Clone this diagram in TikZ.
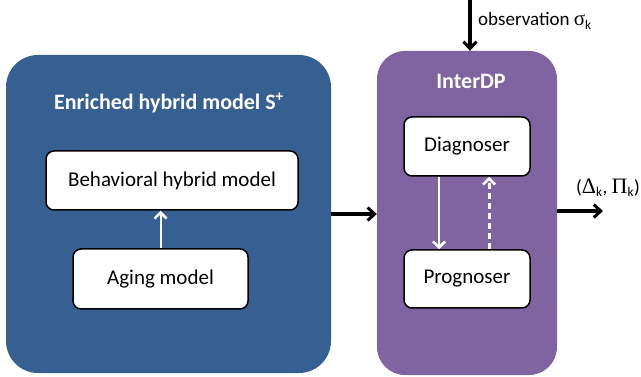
\documentclass[tikz,border=0pt]{standalone}
\usepackage{fontspec}
\setmainfont{Carlito}
\newfontfamily\symf{Liberation Serif}
\usetikzlibrary{arrows.meta}
\definecolor{bluebg}{RGB}{55,96,146}
\definecolor{purpbg}{RGB}{128,100,162}
\begin{document}
\begin{tikzpicture}[x=1pt,y=-1pt,
  outer/.style={rounded corners=32pt, inner sep=0pt},
  inbox/.style={draw=black, line width=1.5pt, fill=white, rounded corners=8pt, font=\fontsize{21}{24}\selectfont, inner sep=0pt},
  title/.style={text=white, font=\fontsize{22}{24}\selectfont\bfseries},
  blk/.style={line width=3.5pt, -{Straight Barb[length=7pt,width=13pt,line width=3pt]}},
  wht/.style={white, line width=2pt, -{Straight Barb[length=6pt,width=12pt,line width=2.5pt]}}
]
\useasboundingbox (0,0) rectangle (641,377);
\node[outer, fill=bluebg, minimum width=325pt, minimum height=318pt] (blue) at (168.5,214) {};
\node[outer, rounded corners=28pt, fill=purpbg, minimum width=180pt, minimum height=324pt] (purple) at (467,213) {};
\node[title] (btitle) at (169,103) {Enriched hybrid model S\textsuperscript{+}};
\node[title] (ptitle) at (471,81) {InterDP};
\node[inbox, minimum width=252pt, minimum height=59pt] (beh) at (172,180.5) {Behavioral hybrid model};
\node[inbox, minimum width=175pt, minimum height=60pt] (aging) at (160.5,279) {Aging model};
\node[inbox, minimum width=126pt, minimum height=59pt] (diag) at (467,146.5) {Diagnoser};
\node[inbox, minimum width=126pt, minimum height=58pt] (prog) at (467,279) {Prognoser};
\draw[wht] (aging.north) -- (aging.north |- beh.south);
\draw[wht] ([xshift=-28pt]diag.south) -- ([xshift=-28pt]prog.north);
\draw[wht, line width=3pt, dash pattern=on 6pt off 4pt] ([xshift=22pt]prog.north) -- ([xshift=22pt]diag.south);
\coordinate (obs) at (470,0);
\coordinate (out) at (603,211);
\draw[blk] (blue.east |- 0,214) -- (purple.west |- 0,214);
\draw[blk] (obs) -- (obs |- purple.north);
\draw[blk] (purple.east |- out) -- (out);
\node[anchor=west, inner sep=0pt, font=\fontsize{19}{20}\selectfont] (obsl) at (478,21) {observation {\symf\fontsize{21}{20}\selectfont σ}\textsubscript{k}};
\node[inner sep=0pt, font=\fontsize{19}{20}\selectfont] (outl) at (608,188) {({\symf\fontsize{22}{20}\selectfont Δ}\textsubscript{k}, {\symf\fontsize{22}{20}\selectfont Π}\textsubscript{k})};
\end{tikzpicture}
\end{document}
